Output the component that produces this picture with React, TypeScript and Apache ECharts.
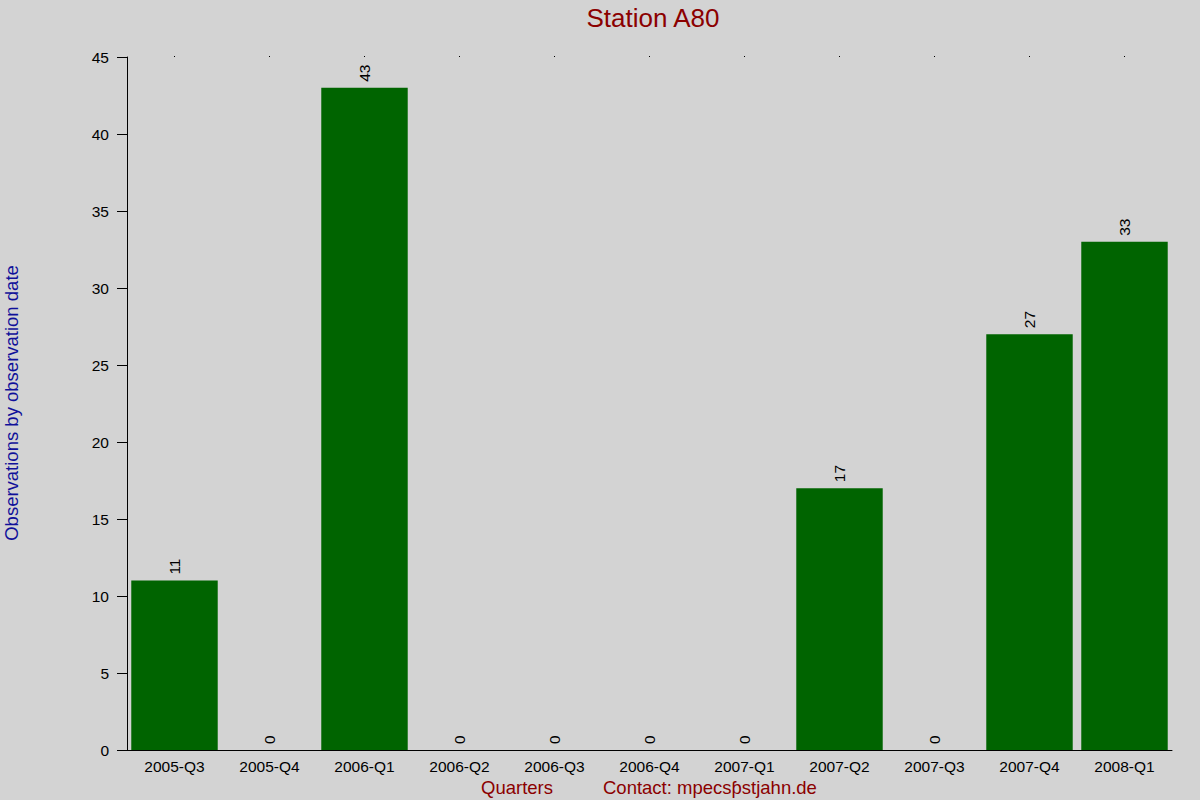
import { useEffect, useRef } from 'react';
import * as echarts from 'echarts';

const quarters = ['2005-Q3', '2005-Q4', '2006-Q1', '2006-Q2', '2006-Q3', '2006-Q4', '2007-Q1', '2007-Q2', '2007-Q3', '2007-Q4', '2008-Q1'];
const observations = [11, 0, 43, 0, 0, 0, 0, 17, 0, 27, 33];
const yTicks = { min: 0, max: 45, interval: 5 };

const FONT = '"Liberation Sans", Arial, sans-serif';

export default function App() {
  const chartRef = useRef<HTMLDivElement | null>(null);

  useEffect(() => {
    if (!chartRef.current) {
      return;
    }
    document.body.style.margin = '0';
    const chart = echarts.init(chartRef.current, undefined, { renderer: 'svg' });
    chart.setOption({
      animation: false,
      backgroundColor: '#d3d3d3',
      textStyle: { fontFamily: FONT },
      title: {
        text: 'Station A80',
        left: 648,
        textAlign: 'center',
        top: 0,
        textStyle: { color: '#8b0000', fontSize: 26, fontWeight: 'normal', fontFamily: FONT },
      },
      grid: { left: 127, right: 28, top: 57, bottom: 50 },
      xAxis: [
        {
          type: 'category',
          data: quarters,
          boundaryGap: true,
          axisLine: { lineStyle: { color: '#000', width: 1 } },
          axisTick: { show: false },
          axisLabel: { color: '#000', fontSize: 15.5, margin: 8, fontFamily: FONT, interval: 0 },
        },
        {
          type: 'category',
          data: quarters,
          position: 'top',
          boundaryGap: true,
          axisLine: { show: false },
          axisTick: { show: true, alignWithLabel: true, length: 1, lineStyle: { color: '#000' } },
          axisLabel: { show: false },
        },
      ],
      yAxis: {
        type: 'value',
        min: yTicks.min,
        max: yTicks.max,
        interval: yTicks.interval,
        axisLine: { show: true, lineStyle: { color: '#000', width: 1 } },
        axisTick: { show: true, length: 10, lineStyle: { color: '#000' } },
        axisLabel: { color: '#000', fontSize: 15.5, margin: 18, fontFamily: FONT },
        splitLine: { show: false },
      },
      series: [
        {
          type: 'bar',
          data: observations,
          barCategoryGap: '9%',
          itemStyle: { color: '#006400' },
          label: {
            show: true,
            position: 'top',
            rotate: 90,
            align: 'left',
            verticalAlign: 'middle',
            distance: 6,
            color: '#000',
            fontSize: 15.5,
            fontFamily: FONT,
          },
        },
      ],
      graphic: [
        {
          type: 'text',
          x: 11,
          y: 403,
          rotation: Math.PI / 2,
          style: {
            text: 'Observations by observation date',
            fill: '#10109a',
            font: `18.5px ${FONT}`,
            align: 'center',
            verticalAlign: 'middle',
          },
        },
        {
          type: 'text',
          x: 481,
          y: 787,
          style: {
            text: 'Quarters',
            fill: '#8b0000',
            font: `18.5px ${FONT}`,
            align: 'left',
            verticalAlign: 'middle',
          },
        },
        {
          type: 'text',
          x: 603,
          y: 787,
          style: {
            text: 'Contact: mpecsƥstjahn.de',
            fill: '#8b0000',
            font: `18.5px ${FONT}`,
            align: 'left',
            verticalAlign: 'middle',
          },
        },
      ],
    });
    return () => {
      chart.dispose();
    };
  }, []);

  return <div ref={chartRef} style={{ position: 'absolute', left: 0, top: 0, width: 1200, height: 800 }} />;
}
